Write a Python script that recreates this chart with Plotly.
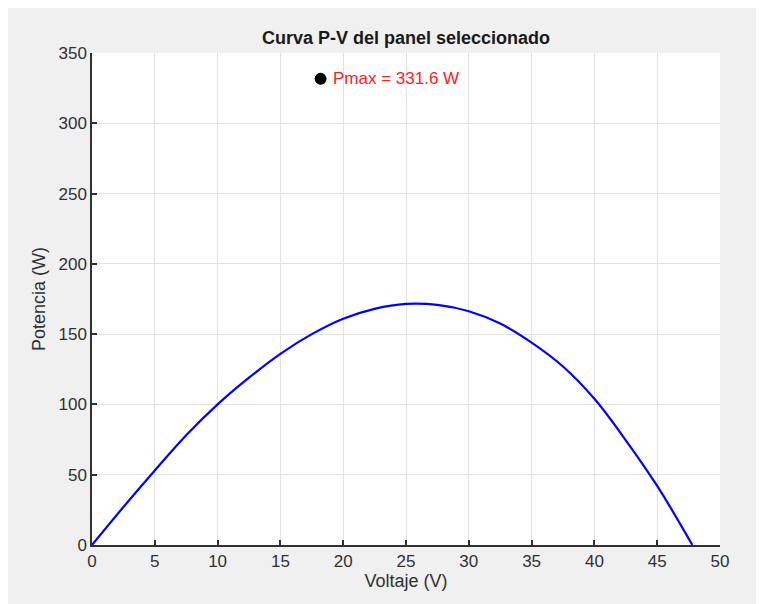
import plotly.graph_objects as go

voltaje = [0, 2.5, 5, 7.5, 10, 12.5, 15, 17.5, 20, 22.5, 25, 27.5, 30, 32.5, 35, 37.5, 40, 42.5, 45, 47.8]
potencia = [0, 27, 53, 78, 100, 119, 136, 150, 161, 168, 171.5, 170.8, 166.3, 157.5, 144, 127, 104, 74.5, 42, 0]

pmax_v = 18.2
pmax_p = 331.6
pmax_label = "Pmax = 331.6 W"

x_ticks = [0, 5, 10, 15, 20, 25, 30, 35, 40, 45, 50]
y_ticks = [0, 50, 100, 150, 200, 250, 300, 350]

font_family = "Liberation Sans, Arial, sans-serif"
axis_color = "#303030"

fig = go.Figure()
fig.add_trace(go.Scatter(
    x=voltaje, y=potencia, mode="lines",
    line=dict(color="#0000ff", width=2.2, shape="spline", smoothing=1.0),
    showlegend=False, hoverinfo="skip",
))
fig.add_trace(go.Scatter(
    x=[pmax_v], y=[pmax_p], mode="markers",
    marker=dict(color="black", size=12),
    showlegend=False, hoverinfo="skip",
))
fig.add_annotation(
    x=pmax_v, y=pmax_p, text=pmax_label, showarrow=False,
    xanchor="left", yanchor="middle", xshift=10,
    font=dict(family=font_family, size=17, color="#ff2020"),
)

axis_common = dict(
    showgrid=True, gridcolor="#e2e2e2", gridwidth=1,
    showline=True, linecolor=axis_color, linewidth=1.5,
    ticks="inside", ticklen=5, tickcolor=axis_color, tickwidth=1.5,
    tickfont=dict(family=font_family, size=17, color=axis_color),
    zeroline=False, mirror=False,
)

fig.update_layout(
    width=764, height=604,
    margin=dict(l=84, r=52, t=45, b=67),
    paper_bgcolor="#f0f0f0", plot_bgcolor="white",
    title=dict(
        text="<b>Curva P-V del panel seleccionado</b>",
        x=(84 + 712) / 2 / 764, xanchor="center",
        y=1 - 30 / 604, yanchor="middle",
        font=dict(family=font_family, size=18, color="#1a1a1a"),
    ),
    xaxis=dict(
        range=[0, 50], tickvals=x_ticks,
        title=dict(text="Voltaje (V)", font=dict(family=font_family, size=18, color=axis_color), standoff=4),
        **axis_common,
    ),
    yaxis=dict(
        range=[0, 350], tickvals=y_ticks,
        title=dict(text="Potencia (W)", font=dict(family=font_family, size=18, color=axis_color), standoff=8),
        **axis_common,
    ),
)

fig.write_html("out.html")
